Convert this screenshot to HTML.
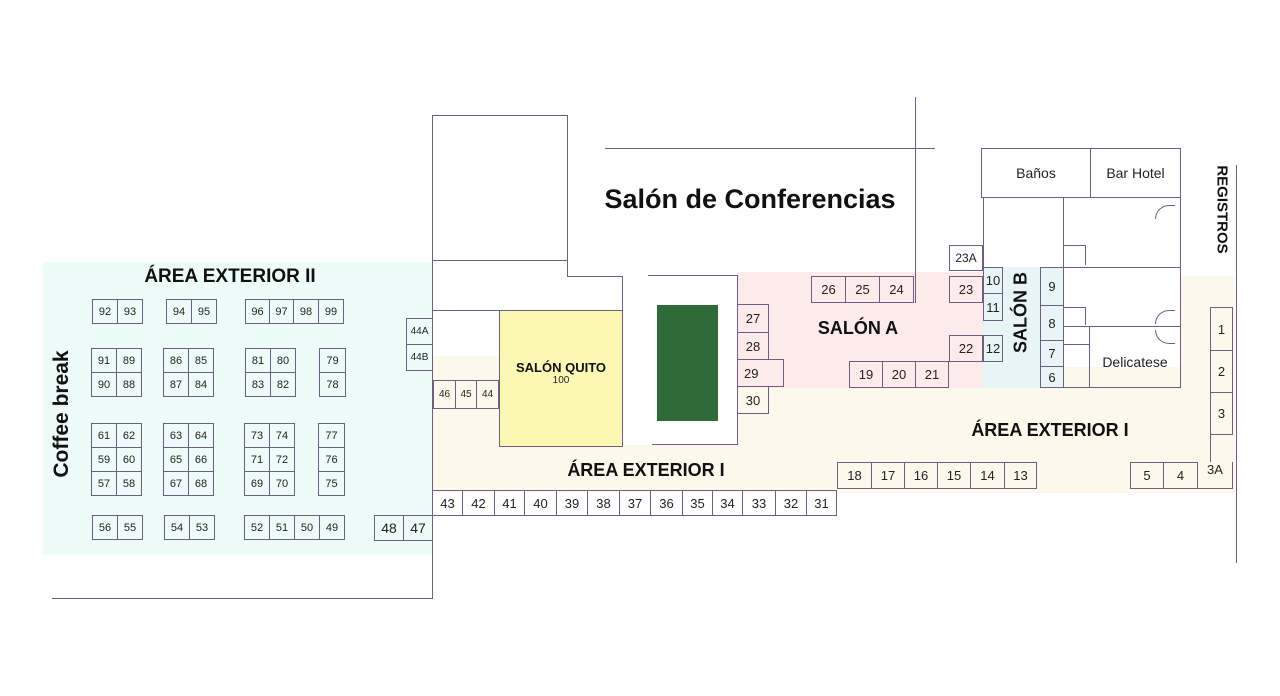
<!DOCTYPE html>
<html><head><meta charset="utf-8"><style>
body{margin:0;width:1280px;height:696px;background:#fff;position:relative;overflow:hidden;font-family:"Liberation Sans",sans-serif;color:#222}
div{position:absolute;box-sizing:border-box}
.b{border:1px solid #6e5f80;font-size:12px;display:flex;align-items:center;justify-content:center}
.l{background:#6e5f80}
.t{font-weight:bold;color:#111;white-space:nowrap}
</style></head><body>
<!-- backgrounds -->
<div style="left:43px;top:262px;width:389px;height:293px;background:#edfcf9"></div>
<div style="left:432px;top:385px;width:803px;height:108px;background:#fcf8ec"></div>
<div style="left:432px;top:356px;width:70px;height:40px;background:#fcf8ec"></div>
<div style="left:1063px;top:367px;width:172px;height:25px;background:#fcf8ec"></div>
<div style="left:1180px;top:276px;width:55px;height:120px;background:#fcf8ec"></div>
<div style="left:737px;top:272px;width:246px;height:116px;background:#fdeaea"></div>
<div style="left:983px;top:267px;width:80px;height:121px;background:#e8f5f7"></div>
<div style="left:622px;top:275px;width:115px;height:170px;background:#fff"></div>

<!-- structure lines -->
<div class="b" style="left:432px;top:115px;width:136px;height:146px"></div>
<div class="l" style="left:432px;top:260px;width:1px;height:339px"></div>
<div class="l" style="left:52px;top:598px;width:381px;height:1px"></div>
<div class="l" style="left:567px;top:260px;width:1px;height:17px"></div>
<div class="l" style="left:567px;top:276px;width:56px;height:1px"></div>
<div class="l" style="left:622px;top:276px;width:1px;height:35px"></div>
<div class="l" style="left:432px;top:310px;width:191px;height:1px"></div>
<div class="l" style="left:499px;top:310px;width:1px;height:70px"></div>
<div class="l" style="left:432px;top:380px;width:68px;height:1px"></div>
<div style="left:499px;top:310px;width:124px;height:137px;background:#fcf8b4;border:1px solid #6e5f80"></div>
<div class="l" style="left:648px;top:275px;width:90px;height:1px"></div>
<div class="l" style="left:737px;top:275px;width:1px;height:170px"></div>
<div class="l" style="left:652px;top:444px;width:86px;height:1px"></div>
<div style="left:657px;top:305px;width:61px;height:116px;background:#2e6b38"></div>
<div class="l" style="left:605px;top:148px;width:330px;height:1px"></div>
<div class="l" style="left:915px;top:97px;width:1px;height:206px"></div>
<div class="l" style="left:783px;top:359px;width:1px;height:28px"></div>

<!-- right building -->
<div class="b" style="left:981px;top:148px;width:110px;height:50px;font-size:14px">Baños</div>
<div class="b" style="left:1090px;top:148px;width:91px;height:50px;font-size:14px">Bar Hotel</div>
<div class="l" style="left:983px;top:197px;width:1px;height:70px"></div>
<div class="l" style="left:1063px;top:197px;width:1px;height:191px"></div>
<div class="l" style="left:1180px;top:197px;width:1px;height:191px"></div>
<div class="l" style="left:1063px;top:267px;width:117px;height:1px"></div>
<div class="l" style="left:1063px;top:326px;width:117px;height:1px"></div>
<div class="l" style="left:1063px;top:387px;width:117px;height:1px"></div>
<div class="l" style="left:1089px;top:326px;width:1px;height:62px"></div>
<div class="l" style="left:1063px;top:344px;width:26px;height:1px"></div>
<div class="b" style="left:1089px;top:326px;width:92px;height:62px;font-size:14px;padding-top:10px">Delicatese</div>
<div style="left:1155px;top:205px;width:20px;height:14px;border-top:1px solid #6e5f80;border-left:1px solid #6e5f80;border-radius:20px 0 0 0"></div>
<div style="left:1155px;top:310px;width:20px;height:14px;border-top:1px solid #6e5f80;border-left:1px solid #6e5f80;border-radius:20px 0 0 0"></div>
<div style="left:1155px;top:330px;width:20px;height:14px;border-bottom:1px solid #6e5f80;border-left:1px solid #6e5f80;border-radius:0 0 0 20px"></div>
<div style="left:1064px;top:245px;width:22px;height:20px;border-top:1px solid #6e5f80;border-right:1px solid #6e5f80;border-radius:0 0 0 0"></div>
<div style="left:1064px;top:307px;width:22px;height:18px;border-top:1px solid #6e5f80;border-right:1px solid #6e5f80"></div>
<div class="l" style="left:1236px;top:165px;width:1px;height:398px"></div>

<!-- booths right -->
<div class="b" style="left:949px;top:245px;width:34px;height:26px">23A</div>
<div class="b" style="left:949px;top:276px;width:34px;height:27px;font-size:13px">23</div>
<div class="b" style="left:949px;top:335px;width:34px;height:27px;font-size:13px">22</div>
<div class="b" style="left:811px;top:276px;width:35px;height:27px;font-size:13px">26</div>
<div class="b" style="left:845px;top:276px;width:35px;height:27px;font-size:13px">25</div>
<div class="b" style="left:879px;top:276px;width:35px;height:27px;font-size:13px">24</div>
<div class="b" style="left:849px;top:361px;width:34px;height:27px;font-size:13px">19</div>
<div class="b" style="left:882px;top:361px;width:34px;height:27px;font-size:13px">20</div>
<div class="b" style="left:915px;top:361px;width:34px;height:27px;font-size:13px">21</div>
<div class="b" style="left:983px;top:267px;width:20px;height:27px;font-size:13px">10</div>
<div class="b" style="left:983px;top:293px;width:20px;height:28px;font-size:13px">11</div>
<div class="b" style="left:983px;top:335px;width:20px;height:27px;font-size:13px">12</div>
<div class="b" style="left:1040px;top:267px;width:24px;height:39px;font-size:13px">9</div>
<div class="b" style="left:1040px;top:305px;width:24px;height:36px;font-size:13px">8</div>
<div class="b" style="left:1040px;top:340px;width:24px;height:27px;font-size:13px">7</div>
<div class="b" style="left:1040px;top:366px;width:24px;height:22px;font-size:13px">6</div>
<div class="b" style="left:737px;top:304px;width:32px;height:29px;font-size:13px">27</div>
<div class="b" style="left:737px;top:332px;width:32px;height:28px;font-size:13px">28</div>
<div class="b" style="left:737px;top:359px;width:47px;height:28px;font-size:13px;justify-content:flex-start;padding-left:6px">29</div>
<div class="b" style="left:737px;top:386px;width:32px;height:28px;font-size:13px">30</div>
<div class="b" style="left:1210px;top:307px;width:23px;height:44px;font-size:13px">1</div>
<div class="b" style="left:1210px;top:350px;width:23px;height:43px;font-size:13px">2</div>
<div class="b" style="left:1210px;top:392px;width:23px;height:43px;font-size:13px">3</div>
<div class="l" style="left:1210px;top:434px;width:1px;height:28px"></div>
<div class="b" style="left:1130px;top:462px;width:34px;height:27px;font-size:13px">5</div>
<div class="b" style="left:1163px;top:462px;width:35px;height:27px;font-size:13px">4</div>
<div class="b" style="left:1197px;top:462px;width:36px;height:27px;font-size:13px;border-top:none;align-items:flex-start">3A</div>
<div class="b" style="left:837px;top:462px;width:35px;height:27px;font-size:13px">18</div>
<div class="b" style="left:871px;top:462px;width:34px;height:27px;font-size:13px">17</div>
<div class="b" style="left:904px;top:462px;width:34px;height:27px;font-size:13px">16</div>
<div class="b" style="left:937px;top:462px;width:34px;height:27px;font-size:13px">15</div>
<div class="b" style="left:970px;top:462px;width:35px;height:27px;font-size:13px">14</div>
<div class="b" style="left:1004px;top:462px;width:33px;height:27px;font-size:13px">13</div>

<!-- bottom row 43-31 -->
<div class="b" style="left:432px;top:490px;width:31px;height:26px;font-size:13px">43</div>
<div class="b" style="left:462px;top:490px;width:33px;height:26px;font-size:13px">42</div>
<div class="b" style="left:494px;top:490px;width:31px;height:26px;font-size:13px">41</div>
<div class="b" style="left:524px;top:490px;width:33px;height:26px;font-size:13px">40</div>
<div class="b" style="left:556px;top:490px;width:32px;height:26px;font-size:13px">39</div>
<div class="b" style="left:587px;top:490px;width:33px;height:26px;font-size:13px">38</div>
<div class="b" style="left:619px;top:490px;width:32px;height:26px;font-size:13px">37</div>
<div class="b" style="left:650px;top:490px;width:33px;height:26px;font-size:13px">36</div>
<div class="b" style="left:682px;top:490px;width:31px;height:26px;font-size:13px">35</div>
<div class="b" style="left:712px;top:490px;width:31px;height:26px;font-size:13px">34</div>
<div class="b" style="left:742px;top:490px;width:34px;height:26px;font-size:13px">33</div>
<div class="b" style="left:775px;top:490px;width:32px;height:26px;font-size:13px">32</div>
<div class="b" style="left:806px;top:490px;width:31px;height:26px;font-size:13px">31</div>
<div class="b" style="left:374px;top:515px;width:30px;height:26px;font-size:14px">48</div>
<div class="b" style="left:403px;top:515px;width:30px;height:26px;font-size:14px">47</div>
<div class="b" style="left:406px;top:318px;width:27px;height:27px;font-size:10px">44A</div>
<div class="b" style="left:406px;top:344px;width:27px;height:27px;font-size:10px">44B</div>
<div class="b" style="left:433px;top:380px;width:23px;height:29px;font-size:10px">46</div>
<div class="b" style="left:455px;top:380px;width:22px;height:29px;font-size:10px">45</div>
<div class="b" style="left:476px;top:380px;width:23px;height:29px;font-size:10px">44</div>

<!-- left booths -->
<div class="b" style="left:92px;top:299px;width:26px;height:25px;font-size:11px">92</div>
<div class="b" style="left:117px;top:299px;width:26px;height:25px;font-size:11px">93</div>
<div class="b" style="left:166px;top:299px;width:26px;height:25px;font-size:11px">94</div>
<div class="b" style="left:191px;top:299px;width:26px;height:25px;font-size:11px">95</div>
<div class="b" style="left:245px;top:299px;width:25px;height:25px;font-size:11px">96</div>
<div class="b" style="left:269px;top:299px;width:25px;height:25px;font-size:11px">97</div>
<div class="b" style="left:293px;top:299px;width:26px;height:25px;font-size:11px">98</div>
<div class="b" style="left:318px;top:299px;width:26px;height:25px;font-size:11px">99</div>

<div class="b" style="left:91px;top:348px;width:26px;height:25px;font-size:11px">91</div>
<div class="b" style="left:116px;top:348px;width:26px;height:25px;font-size:11px">89</div>
<div class="b" style="left:91px;top:372px;width:26px;height:25px;font-size:11px">90</div>
<div class="b" style="left:116px;top:372px;width:26px;height:25px;font-size:11px">88</div>
<div class="b" style="left:163px;top:348px;width:26px;height:25px;font-size:11px">86</div>
<div class="b" style="left:188px;top:348px;width:26px;height:25px;font-size:11px">85</div>
<div class="b" style="left:163px;top:372px;width:26px;height:25px;font-size:11px">87</div>
<div class="b" style="left:188px;top:372px;width:26px;height:25px;font-size:11px">84</div>
<div class="b" style="left:245px;top:348px;width:26px;height:25px;font-size:11px">81</div>
<div class="b" style="left:270px;top:348px;width:26px;height:25px;font-size:11px">80</div>
<div class="b" style="left:245px;top:372px;width:26px;height:25px;font-size:11px">83</div>
<div class="b" style="left:270px;top:372px;width:26px;height:25px;font-size:11px">82</div>
<div class="b" style="left:319px;top:348px;width:27px;height:25px;font-size:11px">79</div>
<div class="b" style="left:319px;top:372px;width:27px;height:25px;font-size:11px">78</div>

<div class="b" style="left:91px;top:423px;width:26px;height:25px;font-size:11px">61</div>
<div class="b" style="left:116px;top:423px;width:26px;height:25px;font-size:11px">62</div>
<div class="b" style="left:91px;top:447px;width:26px;height:25px;font-size:11px">59</div>
<div class="b" style="left:116px;top:447px;width:26px;height:25px;font-size:11px">60</div>
<div class="b" style="left:91px;top:471px;width:26px;height:25px;font-size:11px">57</div>
<div class="b" style="left:116px;top:471px;width:26px;height:25px;font-size:11px">58</div>
<div class="b" style="left:163px;top:423px;width:26px;height:25px;font-size:11px">63</div>
<div class="b" style="left:188px;top:423px;width:26px;height:25px;font-size:11px">64</div>
<div class="b" style="left:163px;top:447px;width:26px;height:25px;font-size:11px">65</div>
<div class="b" style="left:188px;top:447px;width:26px;height:25px;font-size:11px">66</div>
<div class="b" style="left:163px;top:471px;width:26px;height:25px;font-size:11px">67</div>
<div class="b" style="left:188px;top:471px;width:26px;height:25px;font-size:11px">68</div>
<div class="b" style="left:244px;top:423px;width:26px;height:25px;font-size:11px">73</div>
<div class="b" style="left:269px;top:423px;width:26px;height:25px;font-size:11px">74</div>
<div class="b" style="left:244px;top:447px;width:26px;height:25px;font-size:11px">71</div>
<div class="b" style="left:269px;top:447px;width:26px;height:25px;font-size:11px">72</div>
<div class="b" style="left:244px;top:471px;width:26px;height:25px;font-size:11px">69</div>
<div class="b" style="left:269px;top:471px;width:26px;height:25px;font-size:11px">70</div>
<div class="b" style="left:318px;top:423px;width:27px;height:25px;font-size:11px">77</div>
<div class="b" style="left:318px;top:447px;width:27px;height:25px;font-size:11px">76</div>
<div class="b" style="left:318px;top:471px;width:27px;height:25px;font-size:11px">75</div>

<div class="b" style="left:92px;top:515px;width:26px;height:25px;font-size:11px">56</div>
<div class="b" style="left:117px;top:515px;width:26px;height:25px;font-size:11px">55</div>
<div class="b" style="left:164px;top:515px;width:26px;height:25px;font-size:11px">54</div>
<div class="b" style="left:189px;top:515px;width:26px;height:25px;font-size:11px">53</div>
<div class="b" style="left:244px;top:515px;width:26px;height:25px;font-size:11px">52</div>
<div class="b" style="left:269px;top:515px;width:26px;height:25px;font-size:11px">51</div>
<div class="b" style="left:294px;top:515px;width:26px;height:25px;font-size:11px">50</div>
<div class="b" style="left:319px;top:515px;width:26px;height:25px;font-size:11px">49</div>

<!-- labels -->
<div class="t" style="left:140px;top:266px;width:180px;text-align:center;font-size:19px">ÁREA EXTERIOR II</div>
<div class="t" style="left:-18px;top:402px;width:160px;text-align:center;font-size:21px;transform:rotate(-90deg)">Coffee break</div>
<div class="t" style="left:590px;top:184px;width:320px;text-align:center;font-size:27px">Salón de Conferencias</div>
<div class="t" style="left:505px;top:360px;width:112px;text-align:center;font-size:13px">SALÓN QUITO</div>
<div style="left:505px;top:375px;width:112px;text-align:center;font-size:10px">100</div>
<div class="t" style="left:800px;top:318px;width:116px;text-align:center;font-size:18px">SALÓN A</div>
<div class="t" style="left:971px;top:302px;width:100px;text-align:center;font-size:18px;transform:rotate(-90deg)">SALÓN B</div>
<div class="t" style="left:546px;top:460px;width:200px;text-align:center;font-size:18px">ÁREA EXTERIOR I</div>
<div class="t" style="left:950px;top:420px;width:200px;text-align:center;font-size:18px">ÁREA EXTERIOR I</div>
<div class="t" style="left:1172px;top:201px;width:100px;text-align:center;font-size:15px;transform:rotate(90deg)">REGISTROS</div>
</body></html>
